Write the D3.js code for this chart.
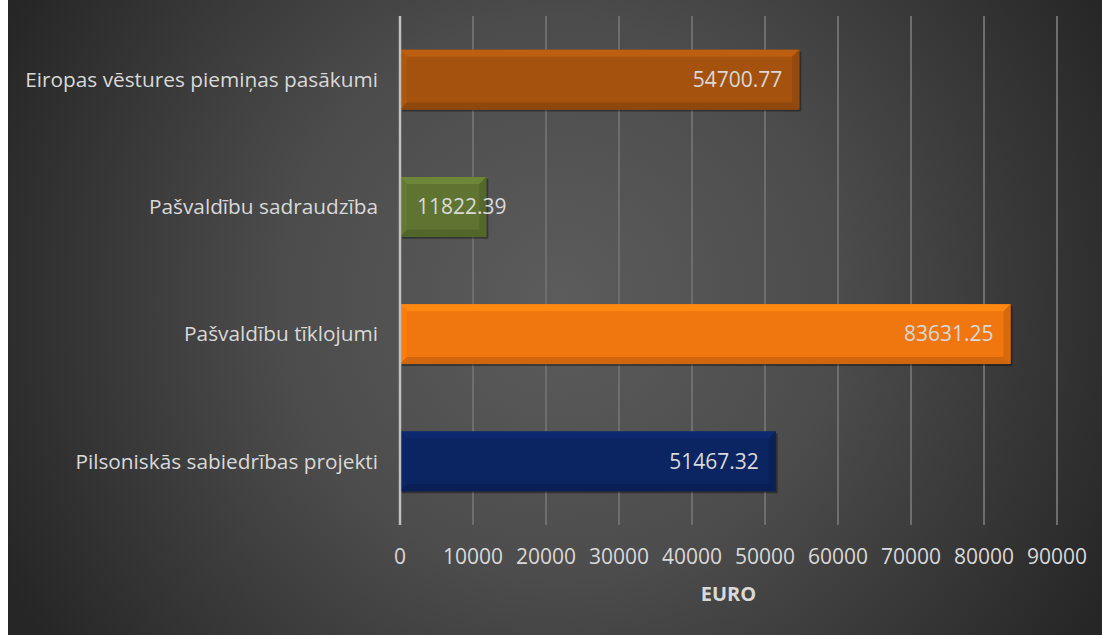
<!DOCTYPE html>
<html>
<head>
<meta charset="utf-8">
<script src="https://cdn.jsdelivr.net/npm/d3@7"></script>
<style>
  body { margin: 0; background: #ffffff; }
  svg { display: block; }
  text { font-family: "Open Sans", "Noto Sans", sans-serif; fill: #d9d9d9; }
</style>
</head>
<body>
<div id="chart"></div>
<script>
// Data
const categories = [
  "Eiropas vēstures piemiņas pasākumi",
  "Pašvaldību sadraudzība",
  "Pašvaldību tīklojumi",
  "Pilsoniskās sabiedrības projekti"
];
const values = [54700.77, 11822.39, 83631.25, 51467.32];
const barColors = ["#a4520e", "#5f7431", "#f0760f", "#0b2462"];
const tickValues = [0, 10000, 20000, 30000, 40000, 50000, 60000, 70000, 80000, 90000];
const axisTitle = "EURO";

const W = 1102, H = 635;
const margin = { top: 16, right: 45, bottom: 110, left: 400 };
const width = W - margin.left - margin.right;
const height = H - margin.top - margin.bottom;

const svg = d3.select("#chart")
  .append("svg")
  .attr("width", W)
  .attr("height", H);

// Background gradient
const defs = svg.append("defs");
const grad = defs.append("radialGradient")
  .attr("id", "bg")
  .attr("gradientUnits", "userSpaceOnUse")
  .attr("cx", 560).attr("cy", 300).attr("r", 620);
grad.append("stop").attr("offset", "0%").attr("stop-color", "#5c5c5c");
grad.append("stop").attr("offset", "45%").attr("stop-color", "#4c4c4c");
grad.append("stop").attr("offset", "100%").attr("stop-color", "#262626");

svg.append("rect")
  .attr("x", 8).attr("y", 0)
  .attr("width", W - 8).attr("height", H)
  .attr("fill", "url(#bg)");

const g = svg.append("g")
  .attr("transform", `translate(${margin.left},${margin.top})`);

// Scales
const x = d3.scaleLinear()
  .domain([0, 90000])
  .range([0, 657]);

const y = d3.scaleBand()
  .domain(categories)
  .range([0, height])
  .paddingInner(0.53)
  .paddingOuter(0.265);

// Gridlines
g.append("g")
  .selectAll("line")
  .data(tickValues.slice(1))
  .enter()
  .append("line")
  .attr("x1", d => x(d)).attr("x2", d => x(d))
  .attr("y1", 0).attr("y2", height)
  .attr("stroke", "#6e6e6e")
  .attr("stroke-width", 2);

// Bars with bevel
const bev = 7;
const bars = g.append("g")
  .selectAll("g")
  .data(categories)
  .enter()
  .append("g")
  .attr("transform", d => `translate(0,${y(d)})`);

bars.each(function(d, i) {
  const sel = d3.select(this);
  const w = x(values[i]);
  const h = y.bandwidth();
  const c = d3.color(barColors[i]);
  // shadow
  sel.append("rect")
    .attr("x", 2).attr("y", 2)
    .attr("width", w).attr("height", h)
    .attr("fill", "rgba(0,0,0,0.35)");
  sel.append("rect")
    .attr("width", w).attr("height", h)
    .attr("fill", c);
  // top bevel
  sel.append("polygon")
    .attr("points", `0,0 ${w},0 ${w - bev},${bev} ${bev},${bev}`)
    .attr("fill", c.brighter(0.4));
  // left bevel
  sel.append("polygon")
    .attr("points", `0,0 ${bev},${bev} ${bev},${h - bev} 0,${h}`)
    .attr("fill", c.brighter(0.15));
  // right bevel
  sel.append("polygon")
    .attr("points", `${w},0 ${w},${h} ${w - bev},${h - bev} ${w - bev},${bev}`)
    .attr("fill", c.darker(0.3));
  // bottom bevel
  sel.append("polygon")
    .attr("points", `0,${h} ${w},${h} ${w - bev},${h - bev} ${bev},${h - bev}`)
    .attr("fill", c.darker(0.4));

  // value label
  const label = sel.append("text")
    .attr("y", h / 2)
    .attr("dy", "0.35em")
    .style("font-size", "21px")
    .style("text-anchor", "end")
    .text(values[i].toFixed(2));
  const tw = label.node().getComputedTextLength();
  label.attr("x", Math.max(w - 17, 17 + tw));
});

// Zero axis line
g.append("line")
  .attr("x1", 0).attr("x2", 0)
  .attr("y1", 0).attr("y2", height)
  .attr("stroke", "#bfbfbf")
  .attr("stroke-width", 2.5);

// Category labels
g.append("g")
  .selectAll("text")
  .data(categories)
  .enter()
  .append("text")
  .attr("x", -22)
  .attr("y", d => y(d) + y.bandwidth() / 2)
  .attr("dy", "0.35em")
  .style("font-size", "20.8px")
  .style("text-anchor", "end")
  .text(d => d);

// X tick labels
g.append("g")
  .selectAll("text")
  .data(tickValues)
  .enter()
  .append("text")
  .attr("x", d => x(d))
  .attr("y", height + 39)
  .style("font-size", "21px")
  .style("text-anchor", "middle")
  .text(d => d);

// Axis title
g.append("text")
  .attr("x", x(45000))
  .attr("y", height + 76)
  .style("font-size", "20px")
  .style("font-weight", "bold")
  .style("text-anchor", "middle")
  .text(axisTitle);
</script>
</body>
</html>
